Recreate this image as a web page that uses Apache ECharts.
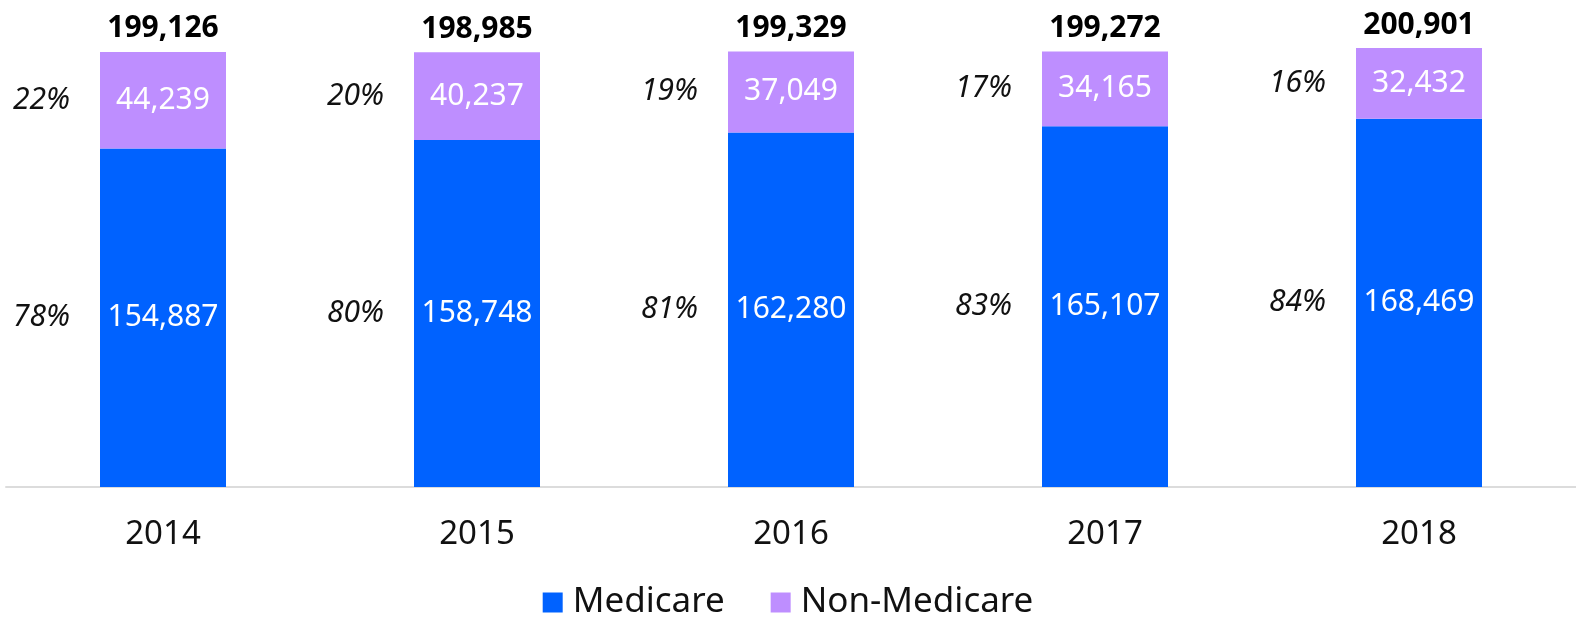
<!DOCTYPE html>
<html>
<head>
<meta charset="utf-8">
<script src="https://cdn.jsdelivr.net/npm/echarts@6/dist/echarts.min.js"></script>
<style>
  html, body { margin: 0; padding: 0; background: #fff; }
  #chart { width: 1576px; height: 627px; }
</style>
</head>
<body>
<div id="chart"></div>
<script>
const years = ["2014", "2015", "2016", "2017", "2018"];
const medicare = [154887, 158748, 162280, 165107, 168469];
const nonMedicare = [44239, 40237, 37049, 34165, 32432];
const totals = [199126, 198985, 199329, 199272, 200901];
const medicarePct = ["78%", "80%", "81%", "83%", "84%"];
const nonMedicarePct = ["22%", "20%", "19%", "17%", "16%"];

const FONT = "Noto Sans";
const BLUE = "#0062ff";
const PURPLE = "#be8eff";
const fmt = (v) => v.toLocaleString("en-US");

const chart = echarts.init(document.getElementById("chart"));

// transparent overlay bars carry the outside labels (percentages, totals)
const ghost = { color: "rgba(0,0,0,0)" };

chart.setOption({
  animation: false,
  textStyle: { fontFamily: FONT },
  grid: { left: 6, right: 0, top: 48, bottom: 140 },
  legend: {
    bottom: 2,
    left: "center",
    data: ["Medicare", "Non-Medicare"],
    icon: "rect",
    itemWidth: 20,
    itemHeight: 20,
    itemGap: 46,
    textStyle: { fontSize: 35, color: "#111", fontFamily: FONT, padding: [0, 0, 0, 5] },
  },
  xAxis: {
    type: "category",
    data: years,
    axisTick: { show: false },
    axisLine: { lineStyle: { color: "#dcdcdc", width: 2 } },
    axisLabel: { fontSize: 33, color: "#111", margin: 31, fontFamily: FONT },
  },
  yAxis: {
    type: "value",
    min: 0,
    max: Math.max(...totals),
    show: false,
    splitLine: { show: false },
  },
  series: [
    {
      name: "Medicare",
      type: "bar",
      stack: "main",
      barWidth: 126,
      barGap: "-100%",
      data: medicare,
      itemStyle: { color: BLUE },
      label: { show: true, position: "inside", color: "#fff", fontSize: 30, formatter: (p) => fmt(p.value) },
    },
    {
      name: "Non-Medicare",
      type: "bar",
      stack: "main",
      barWidth: 126,
      data: nonMedicare,
      itemStyle: { color: PURPLE },
      label: { show: true, position: "inside", color: "#fff", fontSize: 30, formatter: (p) => fmt(p.value) },
    },
    {
      name: "pctMedicare",
      type: "bar",
      stack: "pct",
      barWidth: 126,
      barGap: "-100%",
      data: medicare,
      itemStyle: ghost,
      silent: true,
      label: {
        show: true, position: "left", distance: 30, color: "#111", fontSize: 30, fontStyle: "italic",
        formatter: (p) => medicarePct[p.dataIndex],
      },
    },
    {
      name: "pctNonMedicare",
      type: "bar",
      stack: "pct",
      barWidth: 126,
      data: nonMedicare,
      itemStyle: ghost,
      silent: true,
      label: {
        show: true, position: "left", distance: 30, color: "#111", fontSize: 30, fontStyle: "italic",
        formatter: (p) => nonMedicarePct[p.dataIndex],
      },
    },
    {
      name: "total",
      type: "bar",
      barWidth: 126,
      barGap: "-100%",
      data: totals,
      itemStyle: ghost,
      silent: true,
      z: 0,
      label: {
        show: true, position: "top", distance: 8, color: "#000", fontSize: 30, fontWeight: "bold",
        formatter: (p) => fmt(p.value),
      },
    },
  ],
});
</script>
</body>
</html>
